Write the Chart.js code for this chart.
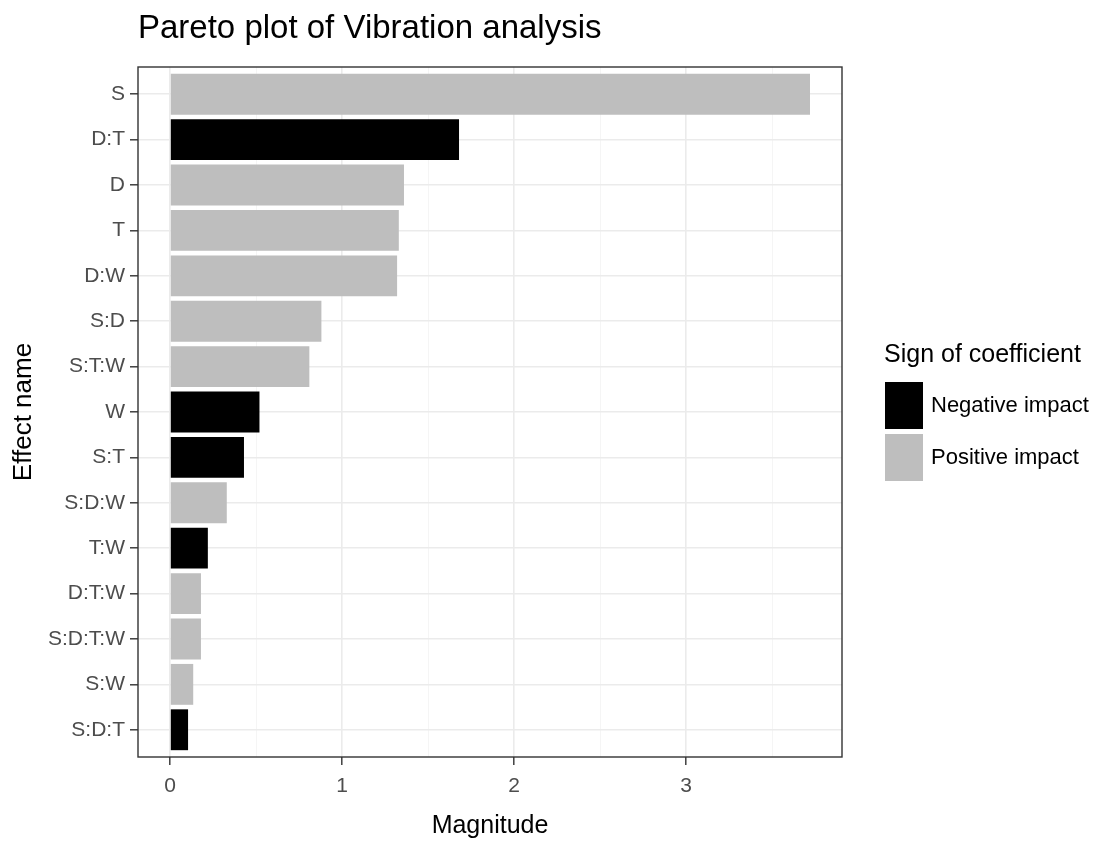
<!DOCTYPE html>
<html>
<head>
<meta charset="utf-8">
<title>Pareto plot of Vibration analysis</title>
<script src="https://cdn.jsdelivr.net/npm/chart.js@4.4.1/dist/chart.umd.min.js"></script>
<style>
    html, body { margin: 0; padding: 0; background: #fff; }
    #wrap { width: 1103px; height: 844px; }
</style>
</head>
<body>
<div id="wrap"><canvas id="paretoChart"></canvas></div>
<script>
'use strict';

var effectNames = ['S', 'D:T', 'D', 'T', 'D:W', 'S:D', 'S:T:W', 'W', 'S:T', 'S:D:W', 'T:W', 'D:T:W', 'S:D:T:W', 'S:W', 'S:D:T'];
var magnitudes  = [3.72, 1.68, 1.36, 1.33, 1.32, 0.88, 0.81, 0.52, 0.43, 0.33, 0.22, 0.18, 0.18, 0.135, 0.105];
var signs       = ['pos', 'neg', 'pos', 'pos', 'pos', 'pos', 'pos', 'neg', 'neg', 'pos', 'neg', 'pos', 'pos', 'pos', 'neg'];
var xTicks      = [0, 1, 2, 3];
var legendTitle = 'Sign of coefficient';
var legendKeys  = ['neg', 'pos'];
var legendLabels = ['Negative impact', 'Positive impact'];

var signColor = { neg: '#000000', pos: '#bebebe' };
var fontFamily = '"Liberation Sans", Arial, sans-serif';

// ggplot style 5% expansion on the value axis
var xMax = Math.max.apply(null, magnitudes);
var xPad = 0.05 * xMax;
var minorTicks = xTicks.map(function (v) { return v + 0.5; });

function isMajor(v) {
    return Math.abs(v - Math.round(v)) < 1e-9;
}

// legend drawn to the right of the panel, like the ggplot guide
var signLegend = {
    id: 'signLegend',
    afterDraw: function (chart) {
        var ctx = chart.ctx;
        var area = chart.chartArea;
        var x = area.right + 42;
        var mid = (area.top + area.bottom) / 2;
        ctx.save();
        ctx.fillStyle = '#000';
        ctx.font = '25px ' + fontFamily;
        ctx.textAlign = 'left';
        ctx.textBaseline = 'alphabetic';
        ctx.fillText(legendTitle, x, mid - 50);
        legendKeys.forEach(function (key, i) {
            var top = mid - 30 + i * 52;
            ctx.fillStyle = signColor[key];
            ctx.fillRect(x + 1, top, 38, 47);
            ctx.fillStyle = '#000';
            ctx.font = '22px ' + fontFamily;
            ctx.textBaseline = 'middle';
            ctx.fillText(legendLabels[i], x + 47, top + 24);
        });
        ctx.restore();
    }
};

// panel border all round
var panelBorder = {
    id: 'panelBorder',
    afterDatasetsDraw: function (chart) {
        var ctx = chart.ctx;
        var a = chart.chartArea;
        ctx.save();
        ctx.strokeStyle = '#333333';
        ctx.lineWidth = 1.4;
        ctx.strokeRect(a.left, a.top, a.right - a.left, a.bottom - a.top);
        ctx.restore();
    }
};

var paretoChart = new Chart(document.getElementById('paretoChart'), {
    type: 'bar',
    data: {
        datasets: [{
            label: 'Magnitude',
            data: effectNames.map(function (name, i) {
                return { x: magnitudes[i], y: i };
            }),
            backgroundColor: signs.map(function (s) { return signColor[s]; }),
            borderWidth: 0,
            barPercentage: 0.9,
            categoryPercentage: 1
        }]
    },
    options: {
        indexAxis: 'y',
        responsive: true,
        maintainAspectRatio: false,
        animation: false,
        layout: {
            padding: { left: 0, right: 261, top: 0, bottom: 0 }
        },
        plugins: {
            legend: { display: false },
            tooltip: { enabled: false },
            title: {
                display: true,
                text: 'Pareto plot of Vibration analysis',
                align: 'start',
                fullSize: false,
                color: '#000',
                font: { family: fontFamily, size: 33, weight: 'normal' },
                padding: { top: 9, bottom: 18.4 }
            }
        },
        scales: {
            x: {
                type: 'linear',
                position: 'bottom',
                min: -xPad,
                max: xMax + xPad,
                offset: false,
                afterBuildTicks: function (scale) {
                    scale.ticks = xTicks.concat(minorTicks).sort(function (a, b) { return a - b; })
                        .map(function (v) { return { value: v }; });
                },
                afterFit: function (scale) { scale.height = 87; },
                border: { display: false },
                grid: {
                    offset: false,
                    color: function (c) { return c.tick && isMajor(c.tick.value) ? '#ebebeb' : '#f4f4f4'; },
                    lineWidth: function (c) { return c.tick && isMajor(c.tick.value) ? 1.6 : 0.9; },
                    tickColor: function (c) { return c.tick && isMajor(c.tick.value) ? '#333333' : 'rgba(0,0,0,0)'; },
                    tickWidth: 1.4,
                    tickLength: 8
                },
                ticks: {
                    autoSkip: false,
                    maxRotation: 0,
                    padding: 9,
                    color: '#4d4d4d',
                    font: { family: fontFamily, size: 21 },
                    callback: function (v) { return isMajor(v) ? String(Math.round(v)) : ''; }
                },
                title: {
                    display: true,
                    text: 'Magnitude',
                    color: '#000',
                    font: { family: fontFamily, size: 25 },
                    padding: { top: 0, bottom: 3 }
                }
            },
            y: {
                type: 'linear',
                position: 'left',
                reverse: true,
                offset: false,
                min: -0.6,
                max: effectNames.length - 0.4,
                afterBuildTicks: function (scale) {
                    scale.ticks = effectNames.map(function (n, i) { return { value: i }; });
                },
                afterFit: function (scale) { scale.width = 138; },
                border: { display: false },
                grid: {
                    offset: false,
                    color: '#ebebeb',
                    lineWidth: 1.6,
                    tickColor: '#333333',
                    tickWidth: 1.4,
                    tickLength: 8
                },
                ticks: {
                    autoSkip: false,
                    padding: 5,
                    color: '#4d4d4d',
                    font: { family: fontFamily, size: 21 },
                    callback: function (v) { return effectNames[v]; }
                },
                title: {
                    display: true,
                    text: 'Effect name',
                    color: '#000',
                    font: { family: fontFamily, size: 26 },
                    padding: { top: 8, bottom: 0 }
                }
            }
        }
    },
    plugins: [signLegend, panelBorder]
});
</script>
</body>
</html>
